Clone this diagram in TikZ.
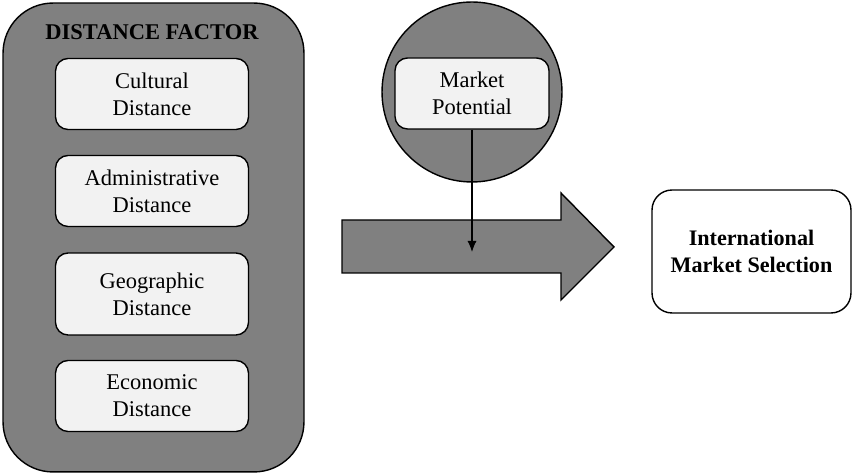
\documentclass[tikz,border=0pt]{standalone}
\usepackage{fontspec}
\setmainfont{Liberation Serif}
\usetikzlibrary{positioning,arrows.meta}
\definecolor{mygray}{rgb}{0.5, 0.5, 0.5}
\definecolor{mylight}{rgb}{0.95, 0.95, 0.95}

\begin{document}
\begin{tikzpicture}[x=0.02cm, y=-0.02cm,
    factor/.style={draw, line width=0.8pt, fill=mylight, rounded corners=0.25cm,
      minimum width=3.86cm, minimum height=1.42cm, align=center,
      font=\fontsize{12.8}{15.4}\selectfont}]

  \useasboundingbox (0,0) rectangle (852,475);

  % Draw the distance factor panel
  \node[draw, line width=0.8pt, fill=mygray, rounded corners=1cm,
    minimum width=6.02cm, minimum height=9.38cm] (panel) at (153.5,237.5) {};
  \node[font=\bfseries\fontsize{12.8}{15}\selectfont] (title) at (152,32) {DISTANCE FACTOR};

  % Draw the four distances
  \node[factor] (cultural) at (152,94) {Cultural\\Distance};
  \node[factor] (administrative) at (152,191) {Administrative\\Distance};
  \node[factor, minimum height=1.64cm] (geographic) at (152,294) {Geographic\\Distance};
  \node[factor] (economic) at (152,396) {Economic\\Distance};

  % Draw market potential in its circle
  \node[draw, line width=0.8pt, fill=mygray, circle, minimum size=3.6cm] (circ) at (472,92) {};
  \node[factor, minimum width=3.08cm] (potential) at (472,93.5) {Market\\Potential};

  % Draw the big arrow
  \draw[line width=0.8pt, fill=mygray] (342,220) -- (561,220) -- (561,193) -- (614,247)
    -- (561,300) -- (561,273) -- (342,273) -- cycle;
  \coordinate (target) at (472,252);

  % Draw the link from market potential down to the arrow
  \draw[line width=0.6pt, -{Latex[length=2.2mm, width=1.8mm]}] (potential) -- (target);

  % Draw the selection box
  \node[draw, line width=0.8pt, fill=white, rounded corners=0.4cm, minimum width=3.98cm,
    minimum height=2.46cm, align=center, font=\bfseries\fontsize{12.6}{15.4}\selectfont]
    (selection) at (751.5,251.5) {International\\Market Selection};

\end{tikzpicture}
\end{document}
